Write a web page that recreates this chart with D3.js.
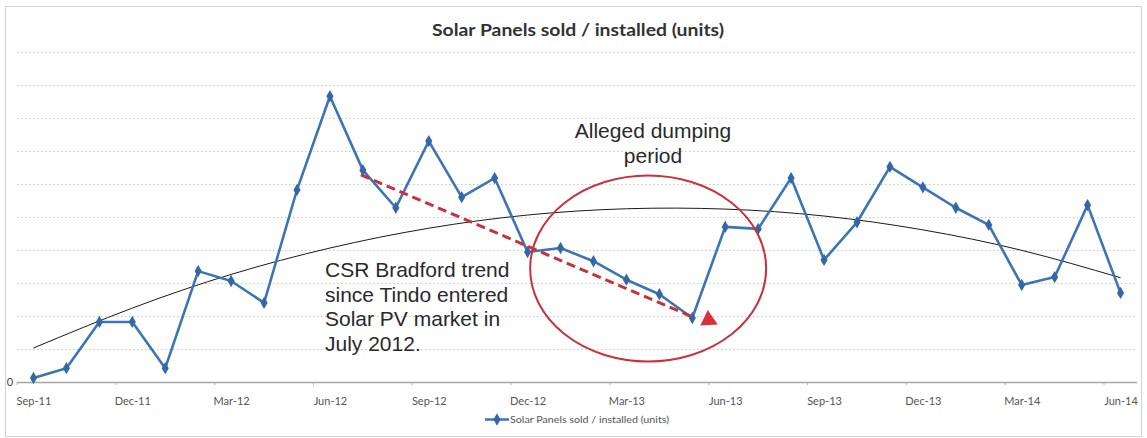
<!DOCTYPE html>
<html lang="en">
<head>
    <meta charset="utf-8">
    <title>Solar Panels sold / installed (units)</title>
    <script type="text/javascript" src="https://cdn.jsdelivr.net/npm/d3@7"></script>
    <style type="text/css">
        body { margin: 0; background: #fff; }
        svg { display: block; font-family: Lato, "Liberation Sans", sans-serif; }
    </style>
</head>
<body>
    <script type="text/javascript">
        // Monthly categories
        var months = ["Sep-11","Oct-11","Nov-11","Dec-11","Jan-12","Feb-12","Mar-12","Apr-12","May-12","Jun-12",
                      "Jul-12","Aug-12","Sep-12","Oct-12","Nov-12","Dec-12","Jan-13","Feb-13","Mar-13","Apr-13",
                      "May-13","Jun-13","Jul-13","Aug-13","Sep-13","Oct-13","Nov-13","Dec-13","Jan-14","Feb-14",
                      "Mar-14","Apr-14","May-14","Jun-14"];

        // Solar panels sold / installed (units)
        var units = [60, 210, 910, 910, 210, 1680, 1530, 1200, 2910, 4330,
                     3210, 2640, 3650, 2800, 3090, 1970, 2030, 1830, 1550, 1330,
                     970, 2350, 2320, 3090, 1850, 2420, 3260, 2950, 2640, 2380,
                     1470, 1590, 2680, 1350];

        // Axis labels shown every 3 months
        var tickLabels = ["Sep-11","Dec-11","Mar-12","Jun-12","Sep-12","Dec-12","Mar-13","Jun-13","Sep-13","Dec-13","Mar-14","Jun-14"];

        // Black polynomial trend line, read at the labelled months
        var trendValues = [515, 1120, 1630, 2030, 2330, 2530, 2625, 2620, 2515, 2305, 1995, 1580];

        // Red dashed "CSR Bradford trend" line
        var dumpMonths = ["Jul-12", "May-13"];
        var dumpValues = [3140, 1000];

        var w = 1147;
        var h = 438;
        var plotLeft = 17, plotRight = 1137, plotTop = 52, plotBottom = 382;

        var blue = "#3d74b6";
        var red = "#c8323d";

        var svg = d3.select("body")
            .append("svg")
            .attr("width", w)
            .attr("height", h);

        // Outer chart border
        svg.append("rect")
            .attr("x", 5.5).attr("y", 6.5)
            .attr("width", 1136).attr("height", 430)
            .attr("fill", "#fff")
            .attr("stroke", "#d4d4d4");

        var x = d3.scalePoint()
            .domain(months)
            .range([plotLeft, plotRight])
            .padding(0.5);
        var step = x.step();

        var y = d3.scaleLinear()
            .domain([0, 5000])
            .range([plotBottom, plotTop]);

        // Dotted gridlines
        svg.append("g")
            .selectAll("line")
            .data(y.ticks(10).filter(function(d) { return d > 0; }))
            .enter()
            .append("line")
            .attr("x1", plotLeft).attr("x2", plotRight)
            .attr("y1", function(d) { return Math.round(y(d)) + 0.5; })
            .attr("y2", function(d) { return Math.round(y(d)) + 0.5; })
            .attr("stroke", "#c4c4c4")
            .attr("stroke-dasharray", "1.5,2.5");

        // Category axis
        var xAxis = d3.axisBottom(x)
            .tickValues(tickLabels)
            .tickSize(0)
            .tickPadding(15);
        var gx = svg.append("g")
            .attr("transform", "translate(0," + plotBottom + ")")
            .call(xAxis);
        gx.select(".domain").remove();
        gx.selectAll("text")
            .attr("font-family", "Lato, sans-serif")
            .attr("font-size", 11)
            .attr("fill", "#555");

        svg.append("line")
            .attr("x1", plotLeft).attr("x2", plotRight)
            .attr("y1", plotBottom + 0.5).attr("y2", plotBottom + 0.5)
            .attr("stroke", "#a6a6a6")
            .attr("stroke-width", 1.5);

        // small tick marks between categories, every 3 months
        svg.append("g")
            .selectAll("line")
            .data(tickLabels)
            .enter()
            .append("line")
            .attr("x1", function(d) { return x(d) - step / 2; })
            .attr("x2", function(d) { return x(d) - step / 2; })
            .attr("y1", plotBottom).attr("y2", plotBottom + 3)
            .attr("stroke", "#b0b0b0");

        svg.append("text")
            .attr("x", 10).attr("y", plotBottom + 4)
            .attr("text-anchor", "middle")
            .attr("font-size", 11)
            .attr("fill", "#444")
            .text("0");

        // Trend line
        var trendLine = d3.line()
            .x(function(d, i) { return x(tickLabels[i]); })
            .y(function(d) { return y(d); })
            .curve(d3.curveNatural);
        svg.append("path")
            .attr("d", trendLine(trendValues))
            .attr("fill", "none")
            .attr("stroke", "#1a1a1a")
            .attr("stroke-width", 1);

        // Data line
        var line = d3.line()
            .x(function(d, i) { return x(months[i]); })
            .y(function(d) { return y(d); });
        svg.append("path")
            .attr("d", line(units))
            .attr("fill", "none")
            .attr("stroke", blue)
            .attr("stroke-width", 2.6)
            .attr("stroke-linejoin", "round");

        var diamond = d3.symbol().type(d3.symbolDiamond).size(44);
        svg.append("g")
            .selectAll("path")
            .data(units)
            .enter()
            .append("path")
            .attr("d", diamond)
            .attr("transform", function(d, i) { return "translate(" + x(months[i]) + "," + y(d) + ")"; })
            .attr("fill", "#3567a8");

        // Red dashed trend since July 2012
        svg.append("line")
            .attr("x1", x(dumpMonths[0]) - 2).attr("y1", y(dumpValues[0]))
            .attr("x2", x(dumpMonths[1]) - 2).attr("y2", y(dumpValues[1]))
            .attr("stroke", red)
            .attr("stroke-width", 3)
            .attr("stroke-dasharray", "9,5");

        var ax = x(dumpMonths[1]) + step / 2;
        var ay = y(dumpValues[1]) + 4;
        svg.append("path")
            .attr("d", "M" + (ax - 1) + "," + (ay - 10) + "L" + (ax - 8.5) + "," + (ay + 5.5) + "L" + (ax + 9) + "," + (ay + 4.5) + "Z")
            .attr("fill", "#d8303c");

        // Ellipse around the alleged dumping period
        svg.append("ellipse")
            .attr("cx", x("Mar-13") + step * 0.66)
            .attr("cy", y(1720))
            .attr("rx", 118)
            .attr("ry", 93)
            .attr("fill", "none")
            .attr("stroke", red)
            .attr("stroke-width", 2);

        // Annotation texts
        var note = svg.append("g")
            .attr("font-family", "'Liberation Sans', Arial, sans-serif")
            .attr("font-size", 21)
            .attr("fill", "#2a2a2a");

        note.selectAll("text.dump")
            .data(["Alleged dumping", "period"])
            .enter()
            .append("text")
            .attr("class", "dump")
            .attr("x", 653)
            .attr("y", function(d, i) { return 138 + i * 24.5; })
            .attr("text-anchor", "middle")
            .text(function(d) { return d; });

        note.selectAll("text.csr")
            .data(["CSR Bradford trend", "since Tindo entered", "Solar PV market in", "July 2012."])
            .enter()
            .append("text")
            .attr("class", "csr")
            .attr("x", 325)
            .attr("y", function(d, i) { return 277 + i * 24.5; })
            .text(function(d) { return d; });

        // Title
        svg.append("text")
            .attr("x", 578).attr("y", 36)
            .attr("text-anchor", "middle")
            .attr("font-size", 17)
            .attr("font-weight", "bold")
            .attr("fill", "#333")
            .attr("textLength", 292)
            .attr("lengthAdjust", "spacingAndGlyphs")
            .text("Solar Panels sold / installed (units)");

        // Legend
        var legend = svg.append("g");
        legend.append("line")
            .attr("x1", 485).attr("x2", 509)
            .attr("y1", 419.5).attr("y2", 419.5)
            .attr("stroke", blue)
            .attr("stroke-width", 2.5);
        legend.append("path")
            .attr("d", diamond)
            .attr("transform", "translate(497,419.5)")
            .attr("fill", "#3567a8");
        legend.append("text")
            .attr("x", 510).attr("y", 423)
            .attr("font-size", 10)
            .attr("fill", "#555")
            .attr("textLength", 159)
            .attr("lengthAdjust", "spacingAndGlyphs")
            .text("Solar Panels sold / installed (units)");
    </script>
</body>
</html>
